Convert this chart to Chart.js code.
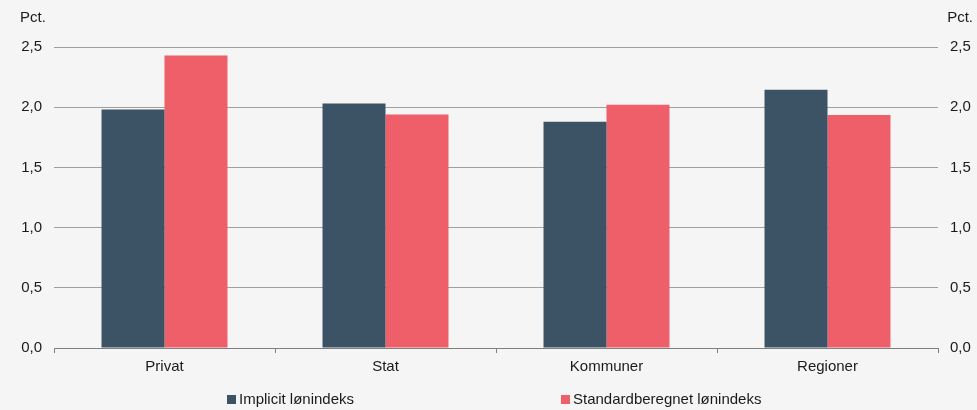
<!DOCTYPE html>
<html>
<head>
<meta charset="utf-8">
<script src="https://cdn.jsdelivr.net/npm/chart.js@4"></script>
<style>
  html, body { margin: 0; padding: 0; background: #f5f5f5; }
  #wrap { position: relative; width: 977px; height: 410px; font-family: 'Liberation Sans', Arial, sans-serif; }
  #legend { position: absolute; left: 0; top: 390px; width: 977px; height: 20px; font-size: 15px; color: #1a1a1a; }
  .item { position: absolute; top: 0; white-space: nowrap; }
  .box { display: inline-block; width: 9px; height: 9px; margin-right: 3px; vertical-align: 0px; }
</style>
</head>
<body>
<div id="wrap">
  <canvas id="c" width="977" height="410"></canvas>
  <div id="legend"></div>
</div>
<script>
const categories = ['Privat', 'Stat', 'Kommuner', 'Regioner'];
const implicitVals = [1.98, 2.03, 1.88, 2.145];
const standardVals = [2.43, 1.94, 2.02, 1.935];
const seriesNames = ['Implicit lønindeks', 'Standardberegnet lønindeks'];
const yTicks = [0, 0.5, 1.0, 1.5, 2.0, 2.5];
const unitLabel = 'Pct.';

const COL = { dark: '#3c5365', red: '#ef5f69', grid: '#a0a0a0', axis: '#7f7f7f', text: '#1a1a1a' };
const FONT = "'Liberation Sans', Arial, sans-serif";
const fmt = v => v.toFixed(1).replace('.', ',');

// "Pct." over each y axis
const unitPlugin = {
  id: 'unit',
  afterDraw(chart) {
    const { ctx, chartArea: { top } } = chart;
    ctx.save();
    ctx.fillStyle = COL.text; ctx.font = '15px ' + FONT; ctx.textBaseline = 'middle';
    ctx.textAlign = 'left'; ctx.fillText(unitLabel, 20, top - 29);
    ctx.textAlign = 'right'; ctx.fillText(unitLabel, 973, top - 29);
    ctx.restore();
  },
};

const yAxis = (pos, width, pad) => ({
  position: pos, min: 0, max: 2.5,
  afterBuildTicks: s => { s.ticks = yTicks.map(v => ({ value: v })); },
  afterFit: s => { s.width = width; },
  grid: { display: pos === 'left', color: COL.grid, drawTicks: false },
  border: { display: false },
  ticks: { color: COL.text, font: { size: 15, family: FONT }, padding: pad, callback: v => fmt(v) },
});

new Chart(document.getElementById('c'), {
  type: 'bar',
  data: {
    labels: categories,
    datasets: [
      { label: seriesNames[0], data: implicitVals, backgroundColor: COL.dark, yAxisID: 'y' },
      { label: seriesNames[1], data: standardVals, backgroundColor: COL.red, yAxisID: 'y' },
    ],
  },
  options: {
    responsive: false, animation: false,
    categoryPercentage: 0.57, barPercentage: 1,
    layout: { padding: { top: 47, bottom: 0, left: 0, right: 0 } },
    plugins: { legend: { display: false }, tooltip: { enabled: false } },
    scales: {
      x: {
        afterFit: s => { s.height = 62; },
        grid: { drawOnChartArea: false, color: COL.axis, tickLength: 5, offset: true },
        border: { color: COL.axis, width: 1 },
        ticks: { color: COL.text, font: { size: 15, family: FONT }, padding: 5 },
      },
      y: yAxis('left', 54, 12),
      y2: yAxis('right', 39, 12),
    },
  },
  plugins: [unitPlugin],
});

// legend with wide spacing as in the original
const legend = document.getElementById('legend');
[[227, COL.dark], [561, COL.red]].forEach(([x, c], i) => {
  const d = document.createElement('div');
  d.className = 'item'; d.style.left = x + 'px';
  d.innerHTML = '<span class="box" style="background:' + c + '"></span>' + seriesNames[i];
  legend.appendChild(d);
});
</script>
</body>
</html>
